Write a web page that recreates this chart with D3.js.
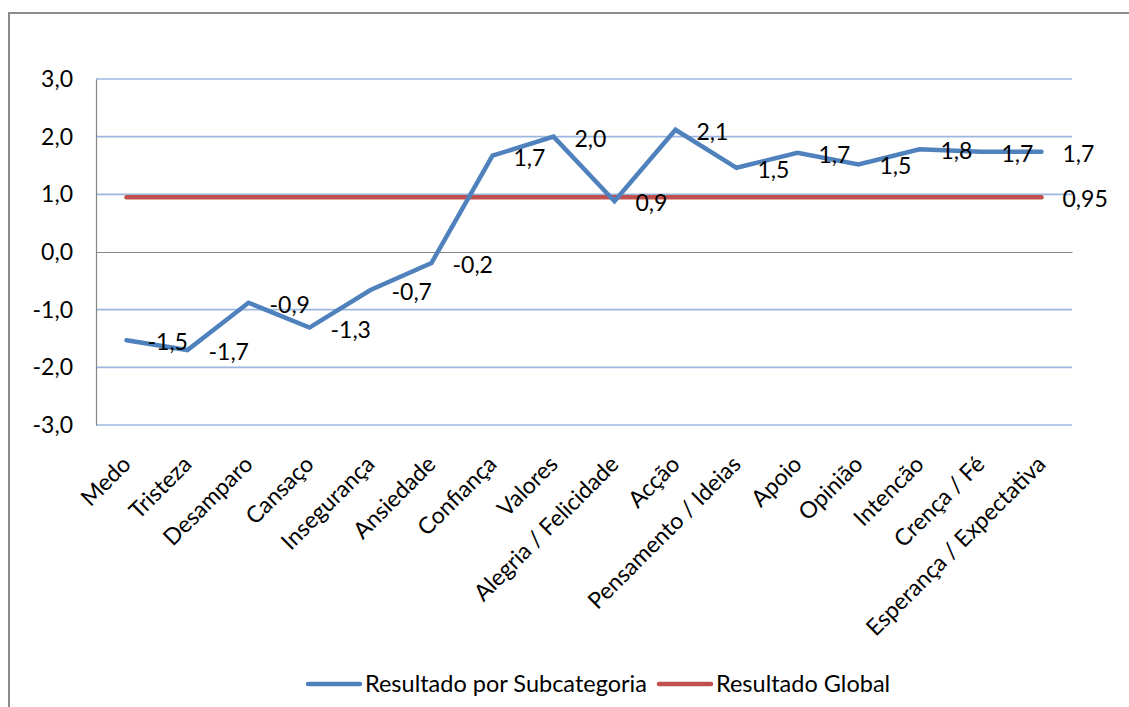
<!DOCTYPE html>
<html>
<head>
<meta charset="utf-8">
<script src="https://cdn.jsdelivr.net/npm/d3@7"></script>
<style>
  html, body { margin: 0; padding: 0; background: #fff; }
  svg { display: block; font-family: Lato, "Open Sans", sans-serif; }
</style>
</head>
<body>
<svg id="chart" width="1129" height="707"></svg>
<script>
// Subcategories on the horizontal axis
const categories = [
  "Medo", "Tristeza", "Desamparo", "Cansaço", "Insegurança", "Ansiedade",
  "Confiança", "Valores", "Alegria / Felicidade", "Acção",
  "Pensamento / Ideias", "Apoio", "Opinião", "Intencão", "Crença / Fé",
  "Esperança / Expectativa"
];

// Score per subcategory
const subcategoryValues = [
  -1.53, -1.70, -0.88, -1.31, -0.66, -0.19,
  1.67, 2.00, 0.88, 2.12,
  1.46, 1.72, 1.52, 1.78, 1.74,
  1.74
];

// Overall score, repeated across every subcategory
const globalValue = 0.95;
const globalValues = categories.map(() => globalValue);

const yTicks = [-3, -2, -1, 0, 1, 2, 3];

const seriesNames = ["Resultado por Subcategoria", "Resultado Global"];
const seriesColors = ["#4F81BD", "#C0504D"];

const svg = d3.select("#chart");
const fontSize = 23;
const catFontSize = 23;
const legendFontSize = 23.5;

const plot = { left: 96, right: 1072, top: 79, bottom: 425 };

const x = d3.scalePoint()
  .domain(categories)
  .range([plot.left, plot.right])
  .padding(0.5);

const y = d3.scaleLinear()
  .domain([-3, 3])
  .range([plot.bottom, plot.top]);

const commaFmt1 = v => d3.format(".1f")(v).replace(".", ",").replace("−", "-");
const commaFmtGen = v => String(v).replace(".", ",");

// Outer frame (left and top edges visible)
svg.append("path")
  .attr("d", "M9,707 L9,13 L1129,13")
  .attr("fill", "none")
  .attr("stroke", "#8C8C8C")
  .attr("stroke-width", 2);

// Horizontal gridlines
svg.append("g")
  .selectAll("line")
  .data(yTicks.filter(t => t !== 0))
  .join("line")
  .attr("x1", plot.left)
  .attr("x2", plot.right)
  .attr("y1", d => y(d))
  .attr("y2", d => y(d))
  .attr("stroke", "#9DB8E0")
  .attr("stroke-width", 1.6);

// Vertical value axis
const yAxis = d3.axisLeft(y)
  .tickValues(yTicks)
  .tickSize(0)
  .tickPadding(23)
  .tickFormat(commaFmt1);

const yAxisG = svg.append("g")
  .attr("transform", `translate(${plot.left},0)`)
  .call(yAxis);
yAxisG.select(".domain").attr("stroke", "#868686").attr("stroke-width", 1.2);
yAxisG.selectAll("text")
  .attr("font-size", fontSize)
  .attr("font-family", "Lato, sans-serif")
  .attr("fill", "#000");

// Category axis crossing at zero
const xAxis = d3.axisBottom(x).tickSize(0).tickFormat("");
const xAxisG = svg.append("g")
  .attr("transform", `translate(0,${y(0)})`)
  .call(xAxis);
xAxisG.select(".domain").attr("stroke", "#868686").attr("stroke-width", 1.2);

// Rotated category labels below the plot
svg.append("g")
  .selectAll("text")
  .data(categories)
  .join("text")
  .attr("transform", d => `translate(${x(d)},${plot.bottom + 35}) rotate(-45)`)
  .attr("text-anchor", "end")
  .attr("dy", "0.35em")
  .attr("font-size", catFontSize)
  .attr("fill", "#000")
  .text(d => d);

// Series lines
const line = d3.line()
  .x((d, i) => x(categories[i]))
  .y(d => y(d));

svg.append("path")
  .datum(globalValues)
  .attr("d", line)
  .attr("fill", "none")
  .attr("stroke", seriesColors[1])
  .attr("stroke-width", 4.5)
  .attr("stroke-linecap", "round");

svg.append("path")
  .datum(subcategoryValues)
  .attr("d", line)
  .attr("fill", "none")
  .attr("stroke", seriesColors[0])
  .attr("stroke-width", 4.5)
  .attr("stroke-linejoin", "miter")
  .attr("stroke-linecap", "round");

// Data labels, placed to the right of each point
svg.append("g")
  .selectAll("text")
  .data(subcategoryValues)
  .join("text")
  .attr("x", (d, i) => x(categories[i]) + 21)
  .attr("y", d => y(d) + 2)
  .attr("dy", "0.35em")
  .attr("font-size", fontSize)
  .attr("fill", "#000")
  .text(d => commaFmt1(d));

const lastCat = categories[categories.length - 1];
svg.append("text")
  .attr("x", x(lastCat) + 21)
  .attr("y", y(globalValues[globalValues.length - 1]) + 2)
  .attr("dy", "0.35em")
  .attr("font-size", fontSize)
  .attr("fill", "#000")
  .text(commaFmtGen(globalValues[globalValues.length - 1]));

// Legend
const legendItems = [
  { name: seriesNames[0], color: seriesColors[0], x: 308 },
  { name: seriesNames[1], color: seriesColors[1], x: 659 }
];
const legendY = 684;
const lg = svg.append("g");
legendItems.forEach(item => {
  lg.append("line")
    .attr("x1", item.x)
    .attr("x2", item.x + 52)
    .attr("y1", legendY)
    .attr("y2", legendY)
    .attr("stroke", item.color)
    .attr("stroke-width", 4.5)
    .attr("stroke-linecap", "round");
  lg.append("text")
    .attr("x", item.x + 57)
    .attr("y", legendY)
    .attr("dy", "0.35em")
    .attr("font-size", legendFontSize)
    .attr("fill", "#000")
    .text(item.name);
});
</script>
</body>
</html>
